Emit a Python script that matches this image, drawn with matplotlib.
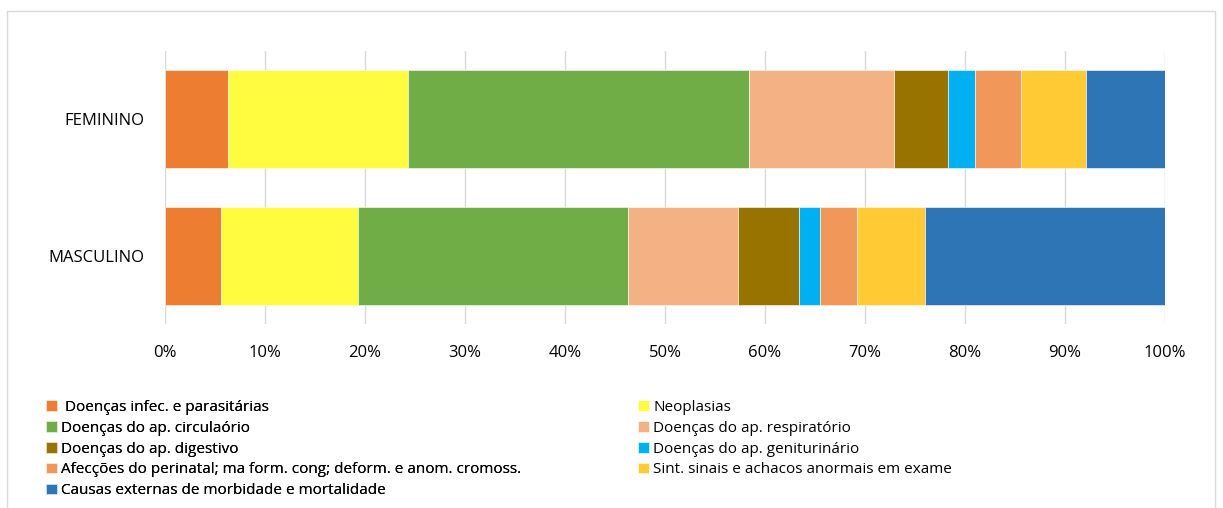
import matplotlib.pyplot as plt
from matplotlib.patches import Rectangle

plt.rcParams['font.family'] = ['Open Sans', 'DejaVu Sans']

groups = ['FEMININO', 'MASCULINO']
causes = [' Doenças infec. e parasitárias',
          'Neoplasias',
          'Doenças do ap. circulaório',
          'Doenças do ap. respiratório',
          'Doenças do ap. digestivo',
          'Doenças do ap. geniturinário',
          'Afecções do perinatal; ma form. cong; deform. e anom. cromoss.',
          'Sint. sinais e achacos anormais em exame',
          'Causas externas de morbidade e mortalidade']
# percent share of each cause, [feminino, masculino]
feminino = [6.3, 18.0, 34.1, 14.5, 5.4, 2.7, 4.6, 6.5, 7.9]
masculino = [5.6, 13.7, 27.0, 11.0, 6.1, 2.1, 3.7, 6.8, 24.0]
colors = ['#ED7D31', '#FFFC40', '#70AD47', '#F4B183', '#997300',
          '#00B0F0', '#F1975A', '#FFCA33', '#2E75B6']
xticks = [0, 10, 20, 30, 40, 50, 60, 70, 80, 90, 100]

fig = plt.figure(figsize=(12.23, 5.08), dpi=100)
ax = fig.add_axes([165 / 1223, 1 - 324 / 508, 1000 / 1223, 273 / 508])

ypos = [0, 1]
left = [0, 0]
bars = []
for i, name in enumerate(causes):
    vals = [feminino[i], masculino[i]]
    b = ax.barh(ypos, vals, left=left, height=0.72, color=colors[i],
                edgecolor='white', linewidth=0.4, label=name, zorder=3)
    bars.append(b)
    left = [left[0] + vals[0], left[1] + vals[1]]

ax.set_xlim(0, 100)
ax.set_ylim(1.5, -0.5)
ax.set_yticks(ypos)
ax.set_yticklabels(groups)
ax.set_xticks(xticks)
ax.set_xticklabels([f'{t}%' for t in xticks])
ax.tick_params(axis='both', length=0, labelsize=12, colors='#000000')
ax.tick_params(axis='y', pad=15)
ax.tick_params(axis='x', pad=15)
ax.grid(axis='x', color='#D9D9D9', linewidth=1.0, zorder=0)
for s in ax.spines.values():
    s.set_visible(False)

# legend in two columns, read row by row
col1 = [bars[i] for i in [0, 2, 4, 6, 8]]
col2 = [bars[i] for i in [1, 3, 5, 7]]
kw = dict(loc='upper left', frameon=False, fontsize=11, handlelength=0.7,
          handleheight=0.7, handletextpad=0.3, labelspacing=0.38,
          borderpad=0, borderaxespad=0)
leg1 = fig.legend(col1, [causes[i] for i in [0, 2, 4, 6, 8]],
                  bbox_to_anchor=(46 / 1223, 1 - 400 / 508), **kw)
fig.add_artist(leg1)
fig.legend(col2, [causes[i] for i in [1, 3, 5, 7]],
           bbox_to_anchor=(638 / 1223, 1 - 400 / 508), **kw)

# chart area border
fig.add_artist(Rectangle((7 / 1223, -0.1), 1208 / 1223, 1.1 - 11 / 508,
                         transform=fig.transFigure, fill=False,
                         edgecolor='#D9D9D9', linewidth=1.0))

fig.savefig('out.png', dpi=100)
